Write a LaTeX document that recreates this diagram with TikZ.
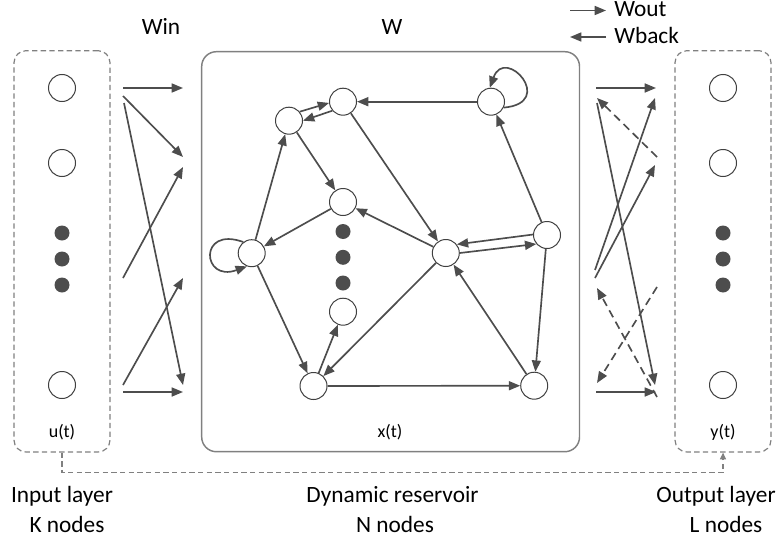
\documentclass[tikz,border=0pt]{standalone}
\usepackage{fontspec}
\setmainfont{Carlito}
\usetikzlibrary{arrows.meta}
\definecolor{edgegray}{HTML}{4D4D4D}
\definecolor{boxgray}{HTML}{808080}

\begin{document}
\begin{tikzpicture}[x=0.75pt, y=-0.75pt,
    neuron/.style={circle, draw=black!75, fill=white, line width=0.75pt, minimum size=20.25pt, inner sep=0pt},
    blob/.style={circle, fill=edgegray, minimum size=11.25pt, inner sep=0pt},
    lbl/.style={font=\fontsize{17.5}{21}\selectfont, inner sep=0pt, anchor=base},
    small/.style={font=\fontsize{13.5}{16}\selectfont, inner sep=0pt, anchor=base},
    link/.style={-{Triangle[length=8.5pt,width=6.75pt]}, draw=edgegray, line width=1.25pt},
    back/.style={link, dash pattern=on 6pt off 3.75pt},
    layer/.style={draw=boxgray, line width=0.9pt, dash pattern=on 4pt off 2.5pt, rounded corners=9pt,
      minimum width=72pt, minimum height=301pt, inner sep=0pt},
    fb/.style={-{Triangle[length=5pt,width=4.5pt]}, draw=boxgray, line width=0.9pt, dash pattern=on 4pt off 2.5pt}]

  \useasboundingbox (0,0) rectangle (780,542);

  % the three blocks
  \node[layer] (inbox) at (62,251.35) {};
  \node[layer] (outbox) at (723,251.35) {};
  \node[draw=boxgray, line width=1.1pt, rounded corners=11pt, minimum width=283.35pt,
    minimum height=300pt, inner sep=0pt] (res) at (390.6,251.7) {};

  % input layer
  \node[neuron] (u1) at (62,88) {};
  \node[neuron] (u2) at (62,163) {};
  \node[neuron] (u3) at (62,385) {};
  \node[blob] (ud1) at (62,233) {};
  \node[blob] (ud2) at (62,259) {};
  \node[blob] (ud3) at (62,285) {};

  % output layer
  \node[neuron] (y1) at (723,88) {};
  \node[neuron] (y2) at (723,163) {};
  \node[neuron] (y3) at (723,385) {};
  \node[blob] (yd1) at (723,233) {};
  \node[blob] (yd2) at (723,259) {};
  \node[blob] (yd3) at (723,285) {};

  % reservoir
  \node[neuron] (a) at (343,101.7) {};
  \node[neuron] (b) at (289,120.7) {};
  \node[neuron] (c) at (491,101.7) {};
  \node[neuron] (d) at (343,202) {};
  \node[neuron] (e) at (251.7,253.2) {};
  \node[neuron] (f) at (445.8,253) {};
  \node[neuron] (g) at (547,235) {};
  \node[neuron] (h) at (343,311.7) {};
  \node[neuron] (i) at (313.5,386) {};
  \node[neuron] (j) at (534.2,385.7) {};
  \node[blob] (rd1) at (343,231.5) {};
  \node[blob] (rd2) at (343,257.3) {};
  \node[blob] (rd3) at (343,283) {};

  \draw[link] (b.40) -- (a.185);
  \draw[link] (a.220) -- (b.0);
  \draw[link] (c) -- (a);
  \draw[link] (c.-25) .. controls +(5:40pt) and +(70:34pt) .. (c.95);
  \draw[link] (a) -- (f);
  \draw[link] (g) -- (c);
  \draw[link] (g.178) -- (f.38);
  \draw[link] (f.0) -- (g.220);
  \draw[link] (f) -- (d);
  \draw[link] (d) -- (e);
  \draw[link] (e) -- (b);
  \draw[link] (b) -- (d);
  \draw[link] (e.127) .. controls +(160:36pt) and +(200:36pt) .. (e.-110);
  \draw[link] (e) -- (i);
  \draw[link] (i) -- (h);
  \draw[link] (f) -- (i);
  \draw[link] (i) -- (j);
  \draw[link] (j) -- (f);
  \draw[link] (g) -- (j);

  % Win
  \coordinate (il1) at (123,88);
  \coordinate (il2) at (123,96);
  \coordinate (il3) at (124,103);
  \coordinate (il4) at (123,278);
  \coordinate (il5) at (123,385);
  \coordinate (il6) at (123,392);
  \coordinate (ir1) at (183,88);
  \coordinate (ir2) at (183,157);
  \coordinate (ir3) at (183,167);
  \coordinate (ir4) at (183,278);
  \coordinate (ir5) at (183,385);
  \coordinate (ir6) at (183,392);
  \draw[link] (il1) -- (ir1);
  \draw[link] (il2) -- (ir2);
  \draw[link] (il3) -- (ir5);
  \draw[link] (il4) -- (ir3);
  \draw[link] (il5) -- (ir4);
  \draw[link] (il6) -- (ir6);

  % Wout and Wback
  \coordinate (ol1) at (596,88);
  \coordinate (ol2) at (597,98);
  \coordinate (ol3) at (597,103);
  \coordinate (ol4) at (595,270);
  \coordinate (ol5) at (595,278);
  \coordinate (ol6) at (597,288);
  \coordinate (ol7) at (597,383);
  \coordinate (ol8) at (596,392);
  \coordinate (or1) at (656,88);
  \coordinate (or2) at (655,98);
  \coordinate (or3) at (657,157);
  \coordinate (or4) at (655,165);
  \coordinate (or5) at (657,287);
  \coordinate (or6) at (655,385);
  \coordinate (or7) at (657,397);
  \coordinate (or8) at (656,392);
  \draw[link] (ol1) -- (or1);
  \draw[back] (or3) -- (ol2);
  \draw[link] (ol4) -- (or2);
  \draw[link] (ol5) -- (or4);
  \draw[link] (ol3) -- (or6);
  \draw[back] (or5) -- (ol7);
  \draw[back] (or7) -- (ol6);
  \draw[link] (ol8) -- (or8);

  % feedback
  \draw[fb] (inbox.south) -- ++(0,20) -| (outbox.south);

  % legend
  \coordinate (lg1) at (570,10.5);
  \coordinate (lg2) at (606,10.5);
  \coordinate (lg3) at (570,37);
  \coordinate (lg4) at (606,37);
  \draw[link] (lg1) -- (lg2);
  \draw[link] (lg4) -- (lg3);
  \node[lbl, anchor=base west] (wout) at (614,17) {Wout};
  \node[lbl, anchor=base west] (wback) at (614,43.5) {Wback};

  % labels
  \node[lbl] (win) at (161,35) {Win};
  \node[lbl] (wres) at (392,35) {W};
  \node[small] (ut) at (62,437) {u(t)};
  \node[small] (xt) at (390,437) {x(t)};
  \node[small] (yt) at (723,437) {y(t)};
  \node[lbl] (inname) at (62,502.5) {Input layer};
  \node[lbl] (innum) at (67,532.5) {K nodes};
  \node[lbl] (resname) at (392.5,502.5) {Dynamic reservoir};
  \node[lbl] (resnum) at (395,532.5) {N nodes};
  \node[lbl] (outname) at (716,502.5) {Output layer};
  \node[lbl] (outnum) at (726,532.5) {L nodes};
\end{tikzpicture}
\end{document}
